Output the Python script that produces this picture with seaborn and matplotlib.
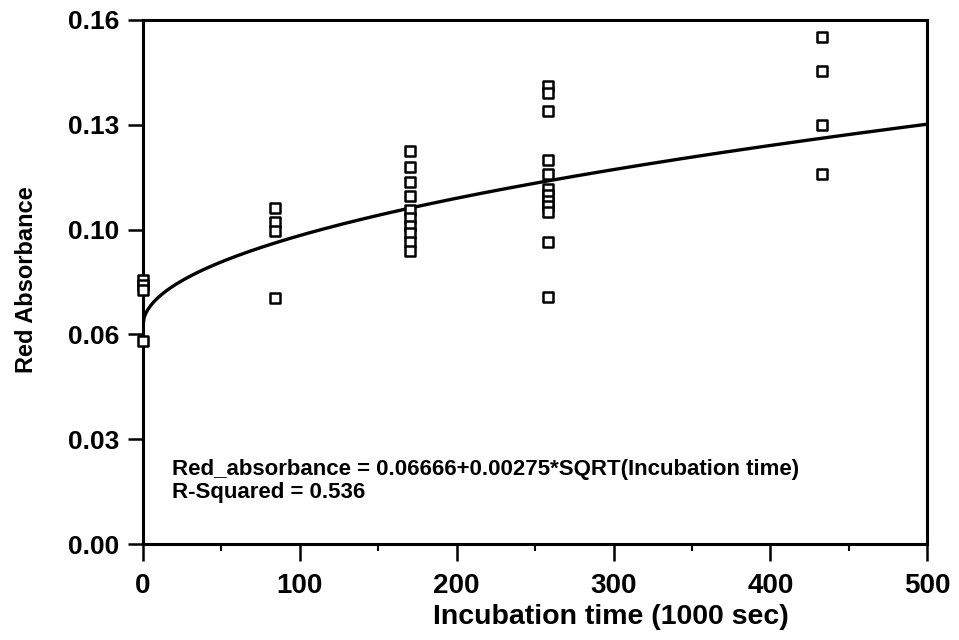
import numpy as np
import pandas as pd
import matplotlib
matplotlib.use("Agg")
import matplotlib.pyplot as plt
import seaborn as sns
from matplotlib.ticker import FixedLocator, MultipleLocator

# ---- data ----
t0 = [0, 0, 0, 0]
a0 = [0.0806, 0.0790, 0.0776, 0.0620]
t1 = [84, 84, 84, 84]
a1 = [0.1026, 0.0983, 0.0956, 0.0751]
t2 = [170] * 10
a2 = [0.1200, 0.1151, 0.1105, 0.1063, 0.1020, 0.0995, 0.0971, 0.0950, 0.0922, 0.0895]
t3 = [258] * 12
a3 = [0.1398, 0.1377, 0.1322, 0.1173, 0.1130, 0.1084, 0.1066, 0.1047, 0.1033, 0.1014, 0.0922, 0.0754]
t4 = [433, 433, 433, 433]
a4 = [0.1548, 0.1444, 0.1279, 0.1130]

intercept = 0.06666
slope = 0.00275
r_squared = 0.536

x_ticks = [0, 100, 200, 300, 400, 500]
y_ticks = [0.0, 0.032, 0.064, 0.096, 0.128, 0.16]
y_tick_labels = ["0.00", "0.03", "0.06", "0.10", "0.13", "0.16"]

df = pd.DataFrame({
    "time": t0 + t1 + t2 + t3 + t4,
    "absorbance": a0 + a1 + a2 + a3 + a4,
})
x_fit = np.linspace(0, 500, 600)
fit = pd.DataFrame({"time": x_fit, "absorbance": intercept + slope * np.sqrt(x_fit)})

sns.set_theme(style="white")
plt.rcParams["font.family"] = ["Liberation Sans", "DejaVu Sans"]
plt.rcParams["font.weight"] = "bold"
plt.rcParams["text.color"] = "black"
plt.rcParams["axes.labelcolor"] = "black"
plt.rcParams["xtick.color"] = "black"
plt.rcParams["ytick.color"] = "black"

fig = plt.figure(figsize=(9.59, 6.40), dpi=100)
ax = fig.add_axes([0.149, 0.15, 0.818, 0.819])

sns.lineplot(data=fit, x="time", y="absorbance", ax=ax, color="black", lw=2.4)
sns.scatterplot(data=df, x="time", y="absorbance", ax=ax, marker="s", s=42,
                facecolor="white", edgecolor="black", linewidth=1.8, zorder=5, clip_on=False)

ax.set_xlim(0, 500)
ax.set_ylim(0, 0.16)
ax.xaxis.set_major_locator(FixedLocator(x_ticks))
ax.xaxis.set_minor_locator(MultipleLocator(50))
ax.yaxis.set_major_locator(FixedLocator(y_ticks))
ax.set_yticklabels(y_tick_labels)
ax.set_xticklabels([str(v) for v in x_ticks])

for s in ax.spines.values():
    s.set_color("black")
    s.set_linewidth(2.2)
    s.set_visible(True)

ax.tick_params(axis="x", which="major", direction="out", length=12, width=1.8,
               labelsize=20, pad=9, bottom=True, colors="black")
ax.tick_params(axis="x", which="minor", direction="out", length=5, width=1.5, bottom=True)
ax.tick_params(axis="y", which="major", direction="out", length=11, width=1.8,
               labelsize=19, pad=6, left=True, colors="black")
for lbl in ax.get_xticklabels() + ax.get_yticklabels():
    lbl.set_fontweight("bold")

ax.set_xlabel("Incubation time (1000 sec)", fontsize=20.5, fontweight="bold", color="black")
ax.xaxis.set_label_coords(0.597, -0.115)
ax.set_ylabel("Red Absorbance", fontsize=17, fontweight="bold", color="black")
ax.yaxis.set_label_coords(-0.134, 0.505)

ax.text(18.5, 0.0211, f"Red_absorbance = {intercept:.5f}+{slope:.5f}*SQRT(Incubation time)",
        fontsize=16, fontweight="bold", va="baseline", ha="left", color="black")
ax.text(18.5, 0.0140, f"R-Squared = {r_squared:.3f}",
        fontsize=16, fontweight="bold", va="baseline", ha="left", color="black")

ax.grid(False)
fig.savefig("out.png", dpi=100, facecolor="white")
